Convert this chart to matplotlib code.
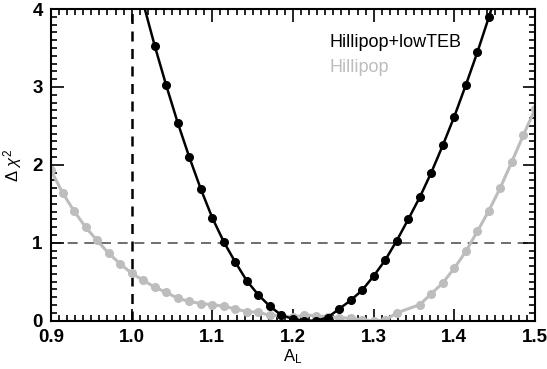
import numpy as np
import matplotlib
matplotlib.use("Agg")
import matplotlib.pyplot as plt
from matplotlib.ticker import MultipleLocator, FormatStrFormatter

plt.rcParams['font.family'] = ['Liberation Sans', 'DejaVu Sans']
plt.rcParams['mathtext.fontset'] = 'custom'
plt.rcParams['mathtext.rm'] = 'Liberation Sans'
plt.rcParams['mathtext.it'] = 'Liberation Sans:italic'

# A_L grid is 0.8 + k/70
k_lowteb = np.arange(15, 47)
dchi2_lowteb = [4.08, 3.53, 3.02, 2.54, 2.10, 1.69, 1.32, 1.01, 0.75, 0.51, 0.33,
                0.184, 0.07, 0.022, 0.0, 0.0, 0.04, 0.15, 0.26, 0.39, 0.573,
                0.776, 1.026, 1.30, 1.583, 1.90, 2.25, 2.62, 3.024, 3.445, 3.896,
                4.37]

k_hil = [7, 8, 9, 10, 11, 12, 13, 14, 15, 16, 17, 18, 19, 20, 21, 22, 23, 24, 25,
         26, 27, 28, 29, 30, 31, 32, 33, 34, 35, 36, 37, 39, 40, 41, 42, 43, 44,
         45, 46, 47, 48, 49, 50]
dchi2_hil = [1.93, 1.643, 1.407, 1.201, 1.03, 0.866, 0.73, 0.609, 0.519, 0.429,
             0.364, 0.287, 0.248, 0.219, 0.206, 0.184, 0.15, 0.116, 0.107, 0.068,
             0.068, 0.042, 0.073, 0.064, 0.05, 0.04, 0.03, 0.01, 0.0, 0.005,
             0.099, 0.206, 0.344, 0.485, 0.673, 0.888, 1.145, 1.412, 1.708,
             2.042, 2.385, 2.712, 3.05]

al_lowteb = 0.8 + np.array(k_lowteb) / 70.0
al_hil = 0.8 + np.array(k_hil) / 70.0

gray = '#bdbdbd'

fig = plt.figure(figsize=(5.47, 3.69), dpi=100)
ax = fig.add_axes([0.0932, 0.131, 0.8848, 0.8445])

ax.plot(al_hil, dchi2_hil, '-o', color=gray, lw=2.2, ms=5.5, mec=gray, zorder=2)
ax.plot(al_lowteb, dchi2_lowteb, '-o', color='black', lw=1.8, ms=5.5, zorder=3)

ax.axhline(1.0, color='#555555', lw=1.2, dashes=(6, 4), zorder=1)
ax.axvline(1.0, color='black', lw=1.8, dashes=(4, 3), zorder=1)

ax.text(1.245, 3.565, 'Hillipop+lowTEB', color='black', fontsize=13, va='center')
ax.text(1.245, 3.256, 'Hillipop', color=gray, fontsize=13, va='center')

ax.set_xlim(0.9, 1.5)
ax.set_ylim(0.0, 4.0)
ax.xaxis.set_major_locator(MultipleLocator(0.1))
ax.xaxis.set_minor_locator(MultipleLocator(0.01))
ax.yaxis.set_major_locator(MultipleLocator(1))
ax.yaxis.set_minor_locator(MultipleLocator(0.1))
ax.xaxis.set_major_formatter(FormatStrFormatter('%.1f'))
ax.yaxis.set_major_formatter(FormatStrFormatter('%d'))

ax.tick_params(which='both', direction='in', top=True, right=True, width=1.2)
ax.tick_params(which='major', length=9, labelsize=13.5, pad=6)
ax.tick_params(which='minor', length=4.5)
for lab in ax.get_xticklabels() + ax.get_yticklabels():
    lab.set_fontweight('bold')
for s in ax.spines.values():
    s.set_linewidth(1.5)

ax.set_xlabel(r'A$_\mathrm{L}$', fontsize=12, labelpad=1)
ax.set_ylabel(r'$\Delta\ \chi^2$', fontsize=12, labelpad=6)

fig.savefig('out.png', dpi=100)
